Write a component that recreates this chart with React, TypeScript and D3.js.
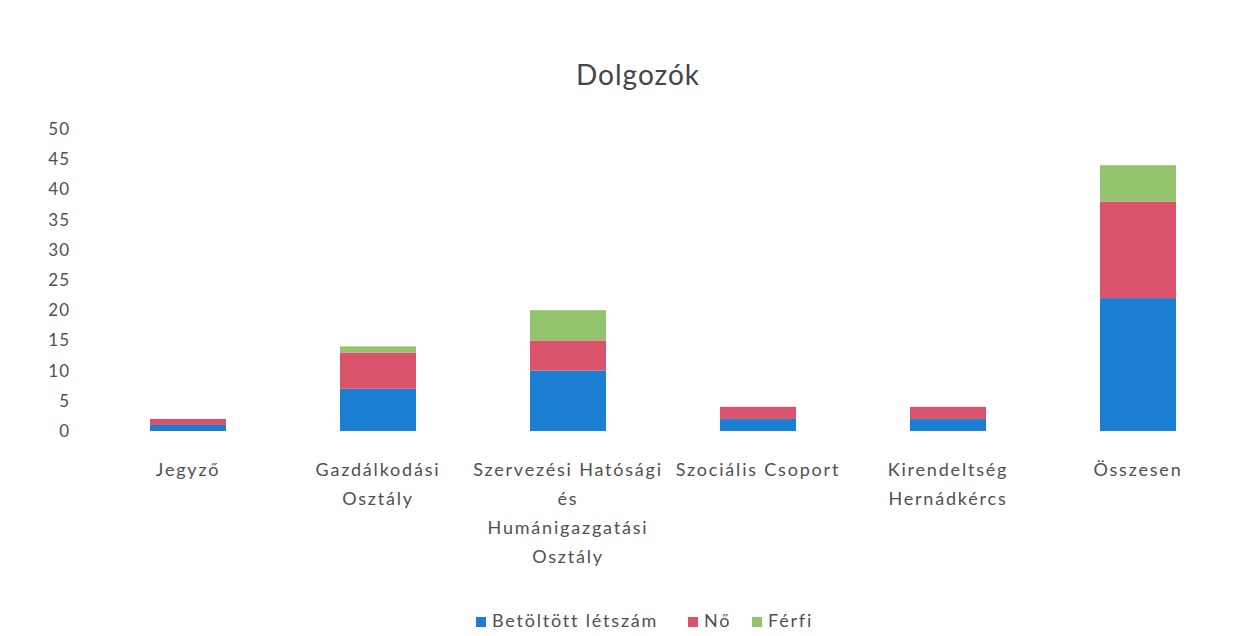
import React from "react";
import * as d3 from "d3";

const categories = ["Jegyző", "Gazdálkodási Osztály", "Szervezési Hatósági és Humánigazgatási Osztály", "Szociális Csoport", "Kirendeltség Hernádkércs", "Összesen"];
const categoryLines = [
  ["Jegyző"],
  ["Gazdálkodási", "Osztály"],
  ["Szervezési Hatósági", "és", "Humánigazgatási", "Osztály"],
  ["Szociális Csoport"],
  ["Kirendeltség", "Hernádkércs"],
  ["Összesen"],
];
const seriesNames = ["Betöltött létszám", "Nő", "Férfi"];
const betoltott = [1, 7, 10, 2, 2, 22];
const no = [1, 6, 5, 2, 2, 16];
const ferfi = [0, 1, 5, 0, 0, 6];
const yTicks = [0, 5, 10, 15, 20, 25, 30, 35, 40, 45, 50];
const colors = ["#1a7fd3", "#d9536a", "#94c36d"];

const W = 1250;
const H = 636;
const FONT = "Lato, 'Open Sans', sans-serif";

export default function App() {
  const x = d3.scaleBand<string>().domain(categories).range([93, 1233]).paddingInner(0.6).paddingOuter(0.3);
  const y = d3.scaleLinear().domain([0, 50]).range([431, 129]);
  const rows = categories.map((c, i) => ({ cat: c, b: betoltott[i], n: no[i], f: ferfi[i] }));
  const stack = d3.stack<any>().keys(["b", "n", "f"])(rows);

  const legendItems = [
    { name: seriesNames[0], x: 476 },
    { name: seriesNames[1], x: 688 },
    { name: seriesNames[2], x: 752 },
  ];

  return (
    <svg width={W} height={H} style={{ position: "absolute", left: 0, top: 0, background: "#fff" }}>
      <rect x={0} y={0} width={W} height={H} fill="#fff" />
      <text x={638} y={85} textAnchor="middle" fontFamily={FONT} fontSize={28} fill="#454545" letterSpacing={1}>
        Dolgozók
      </text>
      {yTicks.map((t) => (
        <text key={t} x={70} y={y(t)} dy="0.35em" textAnchor="end" fontFamily={FONT} fontSize={17} fill="#505050" letterSpacing={1}>
          {t}
        </text>
      ))}
      {stack.map((s, si) => (
        <g key={si} fill={colors[si]}>
          {s.map((d, i) =>
            d[1] > d[0] ? (
              <rect key={i} x={x(categories[i])!} y={y(d[1])} width={x.bandwidth()} height={y(d[0]) - y(d[1])} />
            ) : null
          )}
        </g>
      ))}
      {categories.map((c, i) => (
        <text key={c} textAnchor="middle" fontFamily={FONT} fontSize={18} fill="#505050" letterSpacing={1.8}>
          {categoryLines[i].map((l, li) => (
            <tspan key={li} x={x(c)! + x.bandwidth() / 2} y={476 + li * 29}>
              {l}
            </tspan>
          ))}
        </text>
      ))}
      {legendItems.map((it, i) => (
        <g key={i}>
          <rect x={it.x} y={617} width={10} height={10} fill={colors[i]} />
          <text x={it.x + 16} y={627} fontFamily={FONT} fontSize={18} fill="#505050" letterSpacing={1.8}>
            {it.name}
          </text>
        </g>
      ))}
    </svg>
  );
}
